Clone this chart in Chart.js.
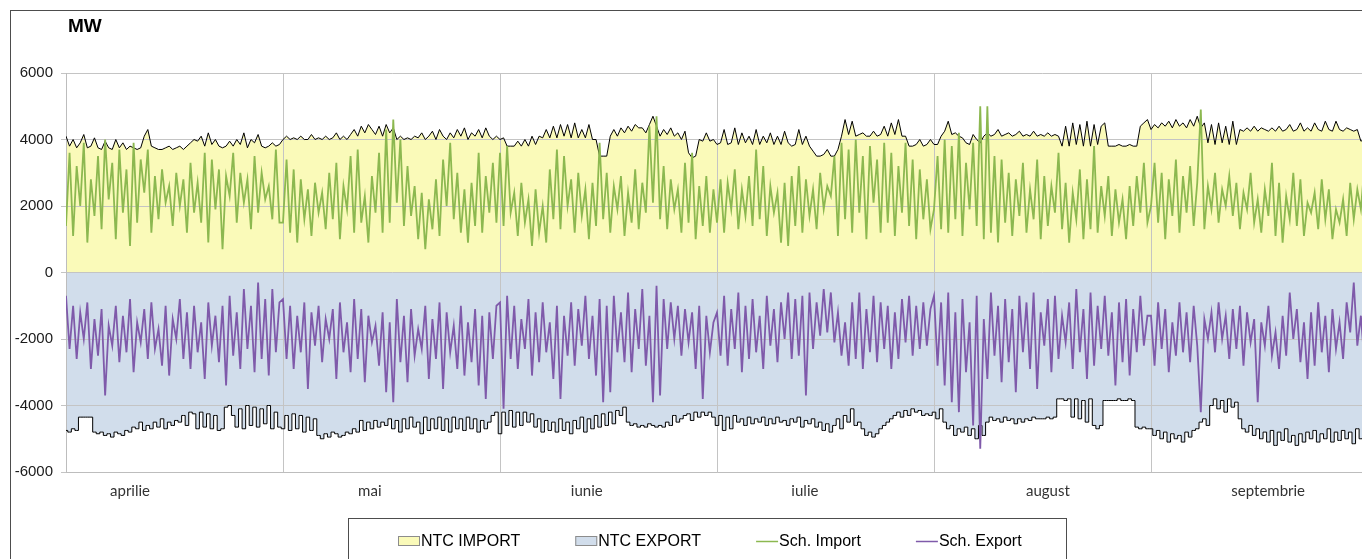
<!DOCTYPE html>
<html><head><meta charset="utf-8">
<script src="https://cdn.jsdelivr.net/npm/chart.js@4/dist/chart.umd.min.js"></script>
<style>html,body{margin:0;padding:0;background:#fff;overflow:hidden}#wrap{position:relative;width:1380px;height:559px}</style>
</head><body><div id="wrap"><canvas id="c"></canvas></div>
<script>
const title = 'MW';
const months = ['aprilie','mai','iunie','iulie','august','septembrie'];
const monthLabelPos = [0.295, 1.40, 2.40, 3.405, 4.525, 5.54];
const yTicks = [-6000,-4000,-2000,0,2000,4000,6000];
const seriesLabels = ['NTC IMPORT','NTC EXPORT','Sch. Import','Sch. Export'];

// two readings per day, April..September
const ntcImport = [
4100,3800,4000,3750,3900,4150,3750,3800,4050,3750,3700,3950,3750,3700,4000,3750,3900,3700,3800,3750,
3700,3750,4100,4300,3800,3750,3700,3700,3750,3800,3700,3750,3800,3700,3800,3900,4000,3950,4100,3800,
4200,3850,4000,3800,3750,3800,3950,3800,4000,3850,4200,3750,4000,3900,4150,3800,3750,3800,3900,3800,3850,
4000,4100,4000,4050,4000,4100,4000,4000,4150,4000,4050,4000,4100,4000,4050,4200,4000,4100,4000,4150,
4300,4100,4400,4200,4450,4300,4150,4400,4100,4450,4200,4350,4000,4100,4000,4050,4000,4100,4050,4200,
4000,4100,4250,4000,4300,4100,4000,4200,4050,4300,4100,4350,4000,4200,4100,4300,4050,4350,4100,4000,4100,
4000,4050,3800,3800,3800,3950,3800,4000,3800,4100,3850,4100,4050,4300,4050,4400,4050,4450,4100,4450,
4050,4500,4050,4300,4050,4450,4000,4000,3500,3500,3500,4100,4300,4100,4350,4200,4400,4250,4450,4350,
4350,4200,4450,4700,4400,4100,4300,4150,4350,4100,4200,4000,4250,3600,3450,3500,4000,3950,4200,3950,4000,
3850,3900,4300,3850,3900,4350,3850,4200,3900,4100,3850,4300,3850,4100,3900,4200,3850,4100,3850,4250,
3900,3800,3850,4300,3850,4100,3800,3650,3500,3500,3550,3700,3500,3500,3700,4100,4600,4150,4550,4100,
4150,4200,4100,4100,4250,4100,4150,4400,4100,4500,4150,4600,4100,4100,3800,3800,3850,4000,3800,3850,4000,
3850,3850,4100,4250,4550,4150,4200,4100,4050,3900,3850,4150,4000,3900,4100,4200,4100,4150,4300,4100,
4150,4200,4100,4150,4250,4100,4150,4100,4250,4100,4150,4100,4200,4100,4150,4100,3800,4400,3800,4500,
3850,4450,3800,4550,3800,4450,3850,4400,4500,3800,3800,3800,3850,3800,3800,3850,3800,3800,4400,4500,4600,
4300,4450,4350,4500,4400,4550,4350,4600,4400,4500,4350,4600,4400,4700,4350,4500,3900,4450,3850,4500,
3900,4400,3850,4550,3850,4300,4250,4350,4250,4400,4250,4350,4300,4250,4350,4250,4400,4250,4300,4450,
4250,4300,4500,4250,4350,4250,4500,4300,4250,4550,4300,4250,4550,4300,4250,4350,4300,4250,4300,3950,4000
];
const ntcExport = [
-4750,-4800,-4700,-4750,-4350,-4350,-4350,-4350,-4800,-4850,-4800,-4900,-4850,-4950,-4800,-4850,-4900,-4750,-4800,-4650,
-4700,-4500,-4750,-4600,-4700,-4500,-4650,-4400,-4700,-4500,-4600,-4450,-4500,-4300,-4600,-4200,-4250,-4700,-4200,-4650,
-4250,-4700,-4300,-4750,-4700,-4050,-4000,-4300,-4650,-4100,-4700,-4000,-4600,-4050,-4650,-4100,-4550,-4000,-4700,-4200,-4650,
-4700,-4300,-4750,-4250,-4700,-4300,-4800,-4350,-4750,-4400,-4900,-5000,-4850,-4950,-4800,-4850,-4950,-4900,-4800,-4850,
-4700,-4800,-4450,-4750,-4500,-4700,-4450,-4650,-4500,-4600,-4400,-4700,-4450,-4800,-4400,-4700,-4350,-4650,-4500,-4850,
-4350,-4750,-4400,-4700,-4350,-4750,-4400,-4800,-4350,-4700,-4400,-4750,-4350,-4700,-4400,-4800,-4450,-4700,-4500,-4300,-4200,
-4850,-4200,-4600,-4150,-4650,-4200,-4600,-4200,-4500,-4250,-4650,-4400,-4800,-4450,-4750,-4500,-4800,-4400,-4750,-4500,
-4850,-4450,-4700,-4350,-4800,-4400,-4700,-4300,-4650,-4250,-4600,-4200,-4550,-4150,-4300,-4050,-4500,-4600,-4550,-4650,
-4600,-4650,-4550,-4600,-4650,-4600,-4650,-4500,-4600,-4300,-4500,-4400,-4300,-4250,-4450,-4200,-4350,-4200,-4300,-4200,-4350,
-4600,-4300,-4750,-4350,-4700,-4300,-4500,-4400,-4600,-4350,-4550,-4400,-4500,-4350,-4600,-4400,-4550,-4350,-4500,-4450,
-4600,-4400,-4500,-4350,-4650,-4450,-4550,-4400,-4650,-4500,-4750,-4550,-4800,-4600,-4400,-4700,-4300,-4500,-4100,-4600,
-4500,-4700,-4900,-4800,-4950,-4850,-4700,-4600,-4500,-4400,-4300,-4200,-4350,-4150,-4300,-4100,-4200,-4150,-4300,-4250,-4300,
-4200,-4400,-4100,-4500,-4700,-4600,-4900,-4700,-4800,-4650,-4900,-4700,-5000,-4600,-4900,-4500,-4350,-4450,-4400,-4500,
-4350,-4450,-4400,-4550,-4400,-4500,-4400,-4450,-4350,-4400,-4400,-4400,-4350,-4400,-4350,-3800,-3800,-3850,-3800,-4350,
-3800,-4400,-3850,-4500,-3800,-4600,-4700,-4600,-3850,-3850,-3850,-3850,-3800,-3850,-3850,-3800,-3850,-4650,-4700,-4650,-4700,
-4700,-4900,-4750,-5000,-4800,-5100,-4850,-5000,-4900,-5100,-4800,-4950,-4750,-4700,-4500,-4400,-4600,-4000,-3800,-4100,
-3850,-4200,-3800,-4050,-3900,-4400,-4700,-4800,-4600,-4900,-4700,-5000,-4800,-5100,-4750,-5200,-4800,-5050,-4700,-5100,
-4900,-5200,-4850,-5100,-4800,-5000,-4750,-5100,-4850,-5000,-4700,-5100,-4800,-5050,-4750,-5000,-4800,-5150,-4700,-5000,-4800
];
const schImport = [
1400,3600,1100,3200,2000,3900,900,2800,1700,3500,1300,4000,2200,3300,1000,3700,1800,3100,800,3900,
1500,3400,2400,3700,1200,2900,1600,3100,2100,2600,1400,3000,2000,2800,1200,3300,1800,2700,1500,3600,
900,3400,1900,3100,700,2900,2300,3600,1500,3000,2100,2800,1300,3500,1800,3000,2200,2600,1600,3700,1500,
1500,3400,1200,3100,900,2800,1600,2500,1100,2700,1800,2400,1300,3000,1600,3300,1000,2600,1900,3500,
1200,3700,1500,2300,900,2900,1800,3600,1200,4300,1500,4600,2100,4000,1400,3200,1700,2600,1000,2400,
700,2200,1300,2800,1100,3400,2000,3900,1600,3000,1200,2500,900,2700,1400,3600,1200,2900,1800,3300,1500,
3600,1400,3800,1800,2400,1100,2700,1500,2200,800,2500,1200,2000,900,3100,1600,3700,1300,3500,2000,
2800,1200,3000,1700,2500,1000,2700,1400,3900,1600,3000,1200,2600,1900,2900,1100,2400,1500,3100,1300,
2700,1800,4400,2100,4700,1600,3200,1300,2800,1900,2500,1200,3300,1500,3600,1000,2600,1400,2900,1200,2500,
1500,2800,1200,2700,1900,3100,1300,2500,1700,2900,1400,3700,1600,3200,1100,2600,1800,2400,900,2700,
800,2900,1400,3200,1200,2800,1700,2500,1300,3000,1900,2600,2300,3500,1100,3900,1600,3700,1200,4000,
1800,3500,1000,3800,2100,3400,1200,3900,1500,3600,1100,3200,1800,3900,1400,3400,1000,3100,1600,2800,1300,
1900,3500,1300,4000,1200,3800,1600,4200,1100,3300,1900,3900,1400,5000,1000,5000,1200,3500,900,3400,
1500,3000,1100,2800,1700,3300,1200,2500,1600,3400,1000,2900,1400,2600,1800,3600,1300,2700,900,2400,
1600,3100,1000,2800,1300,3800,1200,2600,1700,2900,1100,2500,1500,2200,1000,2600,1400,2900,1800,3300,1500,
2000,3300,1500,3000,1000,2800,1700,3400,1200,2900,1800,3200,1400,2700,4900,1300,2600,1900,3000,1500,
2500,2000,2900,1700,2700,1300,2400,1900,3000,1500,2200,1200,2500,1700,3300,1100,2700,900,2300,1600,
3000,1400,2800,1100,2100,1800,2400,1300,2800,1600,2500,1000,1900,1500,2200,1100,2700,1600,2500,1900,3200
];
const schExport = [
-700,-2300,-1000,-2600,-1200,-2000,-900,-2900,-1400,-2500,-1100,-3700,-1600,-2200,-1000,-2700,-1300,-2400,-800,-3000,
-1500,-2100,-1100,-2600,-900,-2300,-1700,-2800,-1000,-3100,-1400,-2000,-800,-2600,-1200,-2900,-1000,-2400,-1500,-3200,
-900,-2200,-1300,-2700,-1000,-3400,-700,-2500,-1200,-2900,-500,-2300,-1000,-3000,-300,-2600,-800,-3100,-500,-2400,-900,
-800,-2600,-1000,-2900,-1300,-2400,-900,-3500,-1200,-2200,-1000,-2700,-1400,-2000,-1100,-3200,-900,-2400,-1500,-3000,
-800,-2600,-1100,-3300,-1300,-2100,-1600,-2800,-1200,-3600,-1500,-3900,-800,-2700,-1300,-3300,-1100,-2500,-1700,-2300,
-1000,-3200,-1400,-2600,-900,-3500,-1200,-2400,-1600,-2900,-1000,-3100,-1500,-2700,-1100,-3400,-1300,-3800,-1200,-2600,-1000,
-900,-4100,-700,-2600,-1000,-2900,-1400,-2300,-800,-3100,-1200,-2700,-900,-2400,-1500,-3200,-1000,-3800,-1300,-2500,
-900,-2800,-1100,-2200,-700,-2600,-1300,-3100,-800,-3900,-1000,-3600,-700,-2400,-1200,-2700,-600,-3000,-1100,-2300,
-500,-2800,-1300,-3900,-400,-3700,-800,-2300,-900,-2000,-1000,-2500,-1100,-2100,-1200,-2900,-1000,-3800,-1300,-2400,-1500,
-1200,-2500,-700,-2800,-1100,-2300,-600,-3000,-1000,-2600,-800,-2400,-1300,-2900,-700,-2200,-1100,-2700,-900,-2000,
-600,-2600,-800,-2500,-700,-3700,-600,-2300,-900,-1900,-500,-1800,-600,-2100,-1200,-2500,-1500,-2800,-900,-2600,
-600,-2900,-1100,-2400,-700,-2700,-900,-2300,-1000,-2900,-1200,-2600,-800,-2100,-700,-2500,-1000,-2300,-900,-2200,-1100,
-700,-2800,-900,-3400,-600,-3900,-1200,-4200,-800,-3000,-1500,-4600,-700,-5300,-1400,-3200,-600,-2500,-1000,-3300,
-800,-2700,-1100,-3600,-700,-2400,-900,-2900,-600,-3500,-1200,-2200,-800,-3000,-700,-2600,-1300,-2100,-900,-2900,
-500,-2400,-1100,-3200,-600,-2800,-1000,-2300,-700,-2500,-1200,-3400,-900,-2700,-800,-3100,-1100,-2400,-700,-2200,-1300,
-1300,-2800,-900,-2300,-1100,-3000,-1500,-2500,-900,-2400,-1200,-2700,-1000,-2200,-4200,-1400,-2000,-1200,-2400,-900,
-2000,-1300,-2600,-1100,-2300,-1000,-2800,-1200,-2100,-1400,-3900,-1500,-2200,-1000,-2500,-1800,-2900,-1300,-2500,-600,
-2000,-1100,-2700,-1500,-3200,-1200,-2800,-900,-2400,-1300,-3000,-1100,-2300,-1500,-2600,-900,-1800,-300,-2200,-1300,-2700
];

const toPts = arr => arr.map((v, i) => ({ x: i * months.length / arr.length, y: v }));

const FONT = '"Liberation Sans", Arial, sans-serif';

const decor = {
  id: 'decor',
  afterDraw(chart) {
    const ctx = chart.ctx;
    ctx.save();
    ctx.strokeStyle = '#4d4d4d';
    ctx.lineWidth = 1;
    ctx.strokeRect(10.5, 10.5, chart.width + 40, chart.height + 40);
    ctx.fillStyle = '#000';
    ctx.font = 'bold 19px ' + FONT;
    ctx.textAlign = 'left';
    ctx.textBaseline = 'middle';
    ctx.fillText(title, 68, 27);
    // legend
    ctx.strokeStyle = '#4d4d4d';
    ctx.strokeRect(348.5, 518.5, 718, 80);
    ctx.font = '16px ' + FONT;
    let x = 398;
    const y = 541;
    chart.data.datasets.forEach(ds => {
      if (ds.fill) {
        ctx.fillStyle = ds.backgroundColor;
        ctx.fillRect(x, 536, 22, 10);
        ctx.strokeStyle = '#8c8c8c';
        ctx.lineWidth = 1;
        ctx.strokeRect(x + 0.5, 536.5, 21, 9);
      } else {
        ctx.strokeStyle = ds.borderColor;
        ctx.lineWidth = 1.5;
        ctx.beginPath(); ctx.moveTo(x, y + 0.5); ctx.lineTo(x + 22, y + 0.5); ctx.stroke();
      }
      ctx.fillStyle = '#000';
      ctx.fillText(ds.label, x + 23, y + 1);
      x += 23 + ctx.measureText(ds.label).width + 55;
    });
    ctx.restore();
  }
};

new Chart(document.getElementById('c'), {
  type: 'line',
  data: {
    datasets: [
      { label: seriesLabels[0], data: toPts(ntcImport), borderColor: '#000', borderWidth: 1, backgroundColor: '#FAFAB9', fill: 'origin', pointRadius: 0, order: 2 },
      { label: seriesLabels[1], data: toPts(ntcExport), borderColor: '#000', borderWidth: 1, backgroundColor: '#D1DDEB', fill: 'origin', stepped: 'middle', pointRadius: 0, order: 2 },
      { label: seriesLabels[2], data: toPts(schImport), borderColor: '#8CB850', borderWidth: 1.8, fill: false, pointRadius: 0, order: 1 },
      { label: seriesLabels[3], data: toPts(schExport), borderColor: '#7F5AAA', borderWidth: 1.8, fill: false, pointRadius: 0, order: 1 }
    ]
  },
  options: {
    responsive: true,
    maintainAspectRatio: false,
    animation: false,
    events: [],
    layout: { padding: { left: 10, top: 73, right: 12, bottom: 57 } },
    plugins: {
      legend: { display: false },
      tooltip: { enabled: false },
      filler: { drawTime: 'beforeDraw' }
    },
    scales: {
      x: {
        type: 'linear', min: 0, max: months.length,
        afterBuildTicks: s => {
          const t = [];
          for (let i = 0; i <= months.length; i++) t.push({ value: i });
          monthLabelPos.forEach(p => t.push({ value: p }));
          s.ticks = t;
        },
        afterFit: s => { s.height = 30; },
        grid: {
          drawTicks: false,
          color: c => (c.tick && Number.isInteger(c.tick.value)) ? '#c4c4c4' : 'rgba(0,0,0,0)',
          lineWidth: 1
        },
        border: { color: '#bdbdbd' },
        ticks: {
          autoSkip: false, maxRotation: 0, minRotation: 0, padding: 10,
          font: { family: 'Lato, "Open Sans", sans-serif', size: 15 }, color: '#333',
          callback: v => { const i = monthLabelPos.indexOf(v); return i >= 0 ? months[i] : ''; }
        }
      },
      y: {
        min: yTicks[0], max: yTicks[yTicks.length - 1],
        afterBuildTicks: s => { s.ticks = yTicks.map(v => ({ value: v })); },
        afterFit: s => { s.width = 56; },
        grid: { color: '#c4c4c4', tickLength: 5, drawTicks: true },
        border: { color: '#bdbdbd' },
        ticks: { padding: 8, font: { family: FONT, size: 15 }, color: '#1a1a1a', callback: v => String(v) }
      }
    }
  },
  plugins: [decor]
});
</script>
</body></html>
